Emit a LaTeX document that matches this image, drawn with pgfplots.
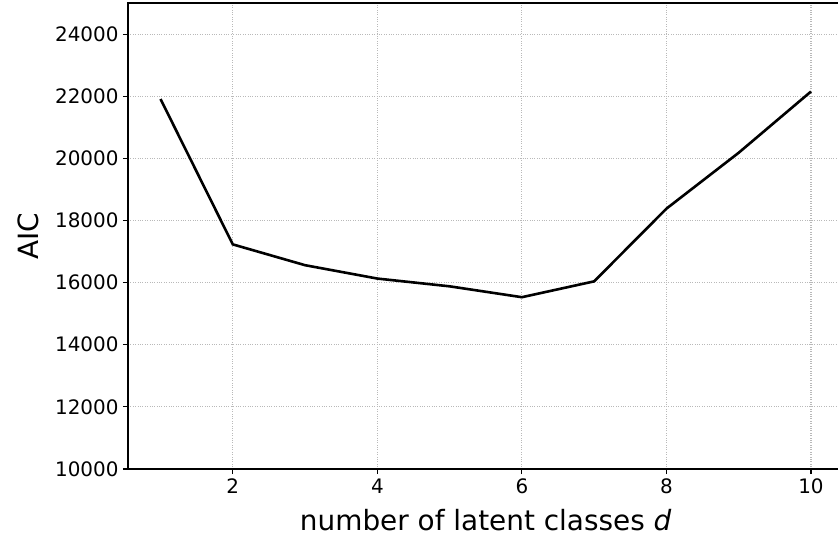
\documentclass[border=0pt]{standalone}
\usepackage{pgfplots}
\pgfplotsset{compat=1.18}
\usepackage{fontspec}
\setmainfont{DejaVu Sans}
\begin{document}
\begin{tikzpicture}[x=1bp,y=1bp]
\begin{axis}[
  scale only axis,
  width=715.5bp, height=466bp,
  xmin=0.55, xmax=10.45,
  ymin=10000, ymax=25000,
  xtick={2,4,6,8,10},
  ytick={10000,12000,14000,16000,18000,20000,22000,24000},
  scaled y ticks=false,
  /pgf/number format/assume math mode=true,
  yticklabel={\pgfmathprintnumber[fixed,precision=0,1000 sep={}]{\tick}},
  xticklabel style={font=\fontsize{20}{24}\selectfont, yshift=-1bp},
  yticklabel style={font=\fontsize{20}{24}\selectfont, xshift=-1bp},
  tick align=outside,
  xtick pos=left, ytick pos=left,
  major tick length=5bp,
  every tick/.style={black, line width=1.1bp},
  axis line style={line width=1.2bp},
  grid=major,
  major grid style={gray!55, dotted, line width=1.1bp},
  xlabel={number of latent classes \textit{d}},
  ylabel={AIC},
  xlabel style={font=\fontsize{28}{32}\selectfont, yshift=-9bp},
  ylabel style={font=\fontsize{28}{32}\selectfont, yshift=9bp},
]
\addplot[black, line width=2.6bp] coordinates {
(1,21910) (2,17230) (3,16560) (4,16130) (5,15880) (6,15530) (7,16040) (8,18380) (9,20180) (10,22150)
};
\end{axis}
\pgfresetboundingbox
\path[use as bounding box] ([xshift=-128bp,yshift=-72bp]current axis.south west) rectangle ([xshift=710bp,yshift=469bp]current axis.south west);
\end{tikzpicture}
\end{document}
